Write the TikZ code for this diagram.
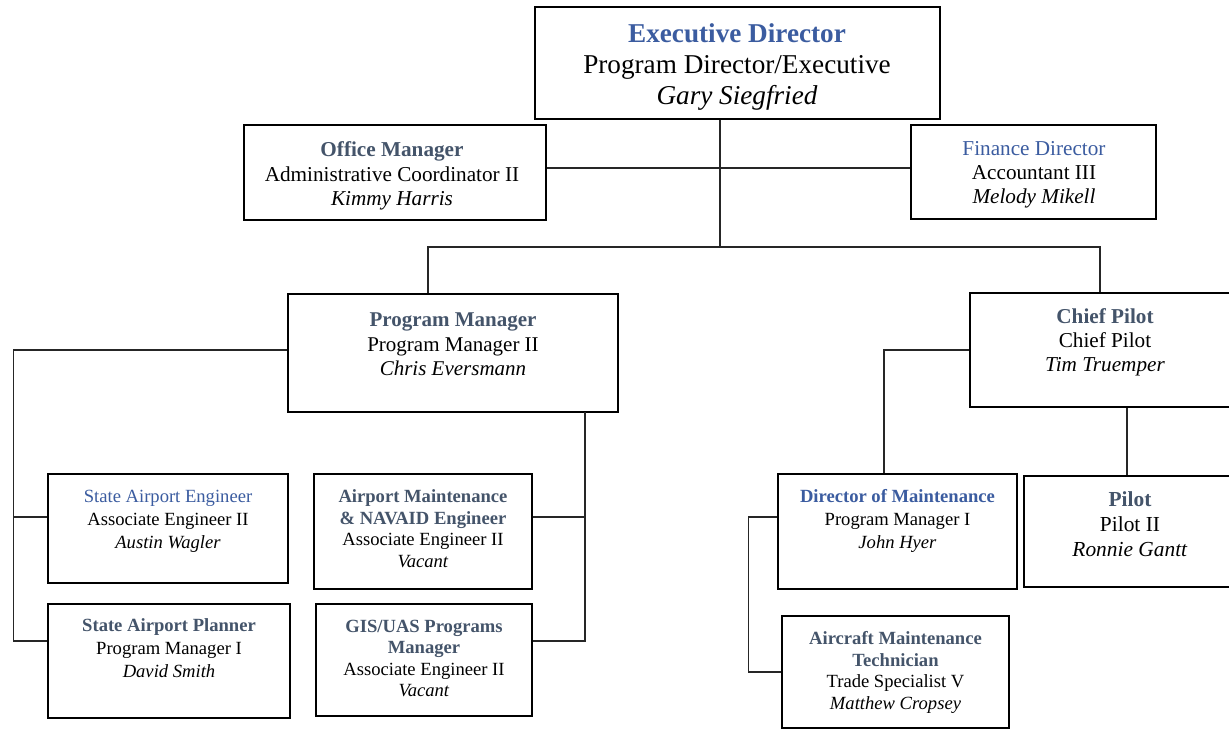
\documentclass[tikz,border=0pt]{standalone}
\usepackage{fontspec}
\setmainfont{Liberation Serif}
\usetikzlibrary{positioning}
\definecolor{headblue}{HTML}{3B5CA0}
\definecolor{slate}{HTML}{44546A}
\begin{document}
\begin{tikzpicture}[x=1pt,y=-1pt,
  box/.style={draw,line width=1.8pt,inner sep=0pt},
  txt/.style={align=center,inner sep=0pt},
  big/.style={txt,font=\fontsize{27.2}{31}\selectfont},
  mid/.style={txt,font=\fontsize{21.2}{24.2}\selectfont},
  small/.style={txt,font=\fontsize{18.6}{22.8}\selectfont},
  tight/.style={txt,font=\fontsize{18.6}{21.6}\selectfont},
  link/.style={line width=1.2pt,draw=black!85}]

  \clip (0,0) rectangle (1229,730);
  \fill[white] (0,0) rectangle (1229,730);

  % boxes
  \node[box,minimum width=405pt,minimum height=112pt] (exec) at (737.5,63) {};
  \node[box,minimum width=302pt,minimum height=95pt] (office) at (395,172.5) {};
  \node[box,minimum width=245pt,minimum height=94pt] (finance) at (1033.5,172) {};
  \node[box,minimum width=330pt,minimum height=118pt] (pm) at (453,353) {};
  \node[box,minimum width=270pt,minimum height=114pt] (cp) at (1105,350) {};
  \node[box,minimum width=240pt,minimum height=109pt] (sae) at (168,528.5) {};
  \node[box,minimum width=242pt,minimum height=114pt] (sap) at (169,661) {};
  \node[box,minimum width=218pt,minimum height=115pt] (amne) at (423,531.5) {};
  \node[box,minimum width=216pt,minimum height=112pt] (gis) at (424,660) {};
  \node[box,minimum width=239pt,minimum height=115pt] (dom) at (897.5,531.5) {};
  \node[box,minimum width=216pt,minimum height=111pt] (pilot) at (1132,531.5) {};
  \node[box,minimum width=227pt,minimum height=112pt] (amt) at (895.5,672) {};

  % texts
  \node[big] (exec-t) at (737,67) {\textcolor{headblue}{\bfseries Executive Director}\\Program Director/Executive\\\textit{Gary Siegfried}};
  \node[mid] (office-t) at (392,176) {\textcolor{slate}{\bfseries Office Manager}\\Administrative Coordinator II\\\textit{Kimmy Harris}};
  \node[mid] (finance-t) at (1034,175) {\textcolor{headblue}{Finance Director}\\Accountant III\\\textit{Melody Mikell}};
  \node[mid,font=\fontsize{21}{24.5}\selectfont] (pm-t) at (453,344.5) {\textcolor{slate}{\bfseries Program Manager}\\Program Manager II\\\textit{Chris Eversmann}};
  \node[mid] (cp-t) at (1105,342.5) {\textcolor{slate}{\bfseries Chief Pilot}\\Chief Pilot\\\textit{Tim Truemper}};
  \node[small] (sae-t) at (168,521.5) {\textcolor{headblue}{State Airport Engineer}\\Associate Engineer II\\\textit{Austin Wagler}};
  \node[small] (sap-t) at (169,648) {\textcolor{slate}{\bfseries State Airport Planner}\\Program Manager I\\\textit{David Smith}};
  \node[tight] (amne-t) at (423,528.5) {\textcolor{slate}{\bfseries Airport Maintenance}\\\textcolor{slate}{\bfseries \& NAVAID Engineer}\\Associate Engineer II\\\textit{Vacant}};
  \node[tight] (gis-t) at (424,658.5) {\textcolor{slate}{\bfseries GIS/UAS Programs}\\\textcolor{slate}{\bfseries Manager}\\Associate Engineer II\\\textit{Vacant}};
  \node[small] (dom-t) at (897.5,521) {\textcolor{headblue}{\bfseries Director of Maintenance}\\Program Manager I\\\textit{John Hyer}};
  \node[txt,font=\fontsize{21.4}{25}\selectfont] (pilot-t) at (1130,524) {\textcolor{slate}{\bfseries Pilot}\\Pilot II\\\textit{Ronnie Gantt}};
  \node[tight] (amt-t) at (895.5,672.5) {\textcolor{slate}{\bfseries Aircraft Maintenance}\\\textcolor{slate}{\bfseries Technician}\\Trade Specialist V\\\textit{Matthew Cropsey}};

  % connectors
  \coordinate (hub) at (720,247);
  \draw[link,line width=1.5pt] (exec.south -| hub) -- (hub);
  \draw[link] ([yshift=4.5pt]office.east) -- ([yshift=4.5pt]office.east -| finance.west);
  \draw[link] ([xshift=-25pt]pm.north) |- (hub) -| ([xshift=-5pt]cp.north);

  \draw[link] ([yshift=3pt]pm.west) -| ([xshift=-34pt,yshift=20pt]sap.west) -- ([yshift=20pt]sap.west);
  \draw[link] ([yshift=11.5pt]sae.west) -- ++(-34,0);

  \coordinate (rbus) at (585,412);
  \draw[link] (rbus) |- ([yshift=19pt]gis.east);
  \draw[link] ([yshift=14.5pt]amne.east) -- ([yshift=14.5pt]amne.east -| rbus);

  \draw[link] ([xshift=22pt]cp.south) -- ([xshift=22pt]cp.south |- pilot.north);
  \draw[link] (cp.west) -| ([xshift=-13.5pt]dom.north);
  \draw[link] ([yshift=14.5pt]dom.west) -- ++(-29,0) |- (amt.west);

\end{tikzpicture}
\end{document}
